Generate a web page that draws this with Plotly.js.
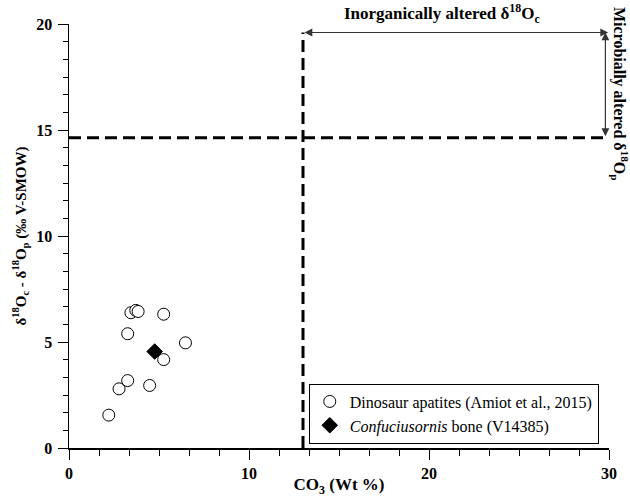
<!DOCTYPE html>
<html>
<head>
<meta charset="utf-8">
<script src="https://cdn.plot.ly/plotly-3.0.1.min.js"></script>
<style>html,body{margin:0;padding:0;background:#fff;}#chart{width:630px;height:497px;}</style>
</head>
<body>
<div id="chart"></div>
<script>
// Dinosaur apatites (Amiot et al., 2015)
const dinoCO3 = [2.21, 2.78, 3.26, 4.48, 5.26, 6.47, 3.26, 3.44, 3.71, 3.84, 5.26];
const dinoDelta = [1.55, 2.79, 3.18, 2.95, 4.17, 4.96, 5.39, 6.38, 6.49, 6.44, 6.31];
// Confuciusornis bone (V14385)
const confCO3 = [4.76];
const confDelta = [4.55];
// threshold lines
const co3Limit = 13;
const deltaLimit = 14.64;
const arrowTop = 19.6;
const xMax = 30;
const seriesNames = ["Dinosaur apatites (Amiot et al., 2015)", "<i>Confuciusornis</i> bone (V14385)"];
const xTickVals = [0, 10, 20, 30];
const xTickText = ["0", "10", "20", "30"];
const yTickVals = [0, 5, 10, 15, 20];
const yTickText = ["0", "5", "10", "15", "20"];

const serif = "'Liberation Serif', 'Times New Roman', Times, serif";
const bold = arr => arr.map(t => "<b>" + t + "</b>");

const traces = [
  {
    x: dinoCO3, y: dinoDelta, type: "scatter", mode: "markers", name: seriesNames[0],
    marker: {symbol: "circle", size: 12, color: "#ffffff", line: {color: "#000000", width: 1}},
    cliponaxis: false
  },
  {
    x: confCO3, y: confDelta, type: "scatter", mode: "markers", name: seriesNames[1],
    marker: {symbol: "diamond", size: 12, color: "#000000", line: {color: "#000000", width: 1}},
    cliponaxis: false
  }
];

const axisCommon = {
  showgrid: false, zeroline: false, showline: true, linecolor: "#000", linewidth: 1.5,
  ticks: "outside", ticklen: 10, tickwidth: 1, tickcolor: "#000",
  tickfont: {family: serif, size: 16, color: "#000"},
  mirror: false
};

const layout = {
  width: 630, height: 497,
  margin: {l: 69, r: 21, t: 24, b: 49},
  paper_bgcolor: "#fff", plot_bgcolor: "#fff",
  font: {family: serif, color: "#000"},
  showlegend: true,
  legend: {
    x: 0.444, y: 0.152, xanchor: "left", yanchor: "top",
    bordercolor: "#000", borderwidth: 1, bgcolor: "#fff",
    font: {family: serif, size: 16, color: "#000"},
    itemwidth: 30, tracegroupgap: 0
  },
  xaxis: Object.assign({}, axisCommon, {
    range: [0, xMax], tickmode: "array", tickvals: xTickVals, ticktext: bold(xTickText), ticklabelstandoff: 0,
    minor: {dtick: 10/6, ticklen: 6, tickcolor: "#000", ticks: "outside", tickwidth: 1},
    title: {text: "<b>CO<sub>3</sub> (Wt %)</b>", font: {family: serif, size: 17, color: "#000"}, standoff: 4}
  }),
  yaxis: Object.assign({}, axisCommon, {
    range: [0, 20], tickmode: "array", tickvals: yTickVals, ticktext: bold(yTickText), ticklabelstandoff: 2,
    minor: {dtick: 5/6, ticklen: 5, tickcolor: "#000", ticks: "outside", tickwidth: 1},
    title: {text: "<b>δ<sup>18</sup>O<sub>c</sub> - δ<sup>18</sup>O<sub>p</sub> (‰ V-SMOW)</b>", font: {family: serif, size: 15, color: "#000"}, standoff: 6}
  }),
  shapes: [
    {type: "line", xref: "x", yref: "y", x0: co3Limit, x1: co3Limit, y0: 0, y1: arrowTop,
     line: {color: "#000", width: 3, dash: "12px,6px"}, layer: "above"},
    {type: "line", xref: "x", yref: "y", x0: 0, x1: xMax - 0.2, y0: deltaLimit, y1: deltaLimit,
     line: {color: "#000", width: 3, dash: "12px,6px"}, layer: "above"}
  ],
  annotations: [
    // horizontal double arrow
    {xref: "x", yref: "y", axref: "x", ayref: "y", x: xMax - 0.05, y: arrowTop, ax: co3Limit, ay: arrowTop,
     text: "", showarrow: true, arrowhead: 2, startarrowhead: 2, arrowside: "end+start",
     arrowcolor: "#333", arrowwidth: 1.2, arrowsize: 1.3, startarrowsize: 1.3},
    // vertical double arrow
    {xref: "x", yref: "y", axref: "x", ayref: "y", x: xMax - 0.2, y: arrowTop, ax: xMax - 0.2, ay: deltaLimit,
     text: "", showarrow: true, arrowhead: 2, startarrowhead: 2, arrowside: "end+start",
     arrowcolor: "#333", arrowwidth: 1.2, arrowsize: 1.3, startarrowsize: 1.3},
    {xref: "x", yref: "paper", x: 20.7, y: 1.0, yanchor: "bottom", yshift: -4, showarrow: false,
     text: "<b>Inorganically altered δ<sup>18</sup>O<sub>c</sub></b>",
     font: {family: serif, size: 17, color: "#000"}},
    {xref: "paper", yref: "paper", x: 1.0, xanchor: "left", xshift: -2, y: 1.045, yanchor: "top", showarrow: false, textangle: 90,
     text: "<b>Microbially altered δ<sup>18</sup>O<sub>p</sub></b>",
     font: {family: serif, size: 16, color: "#000"}}
  ]
};

Plotly.newPlot("chart", traces, layout, {displayModeBar: false, staticPlot: true});
</script>
</body>
</html>
